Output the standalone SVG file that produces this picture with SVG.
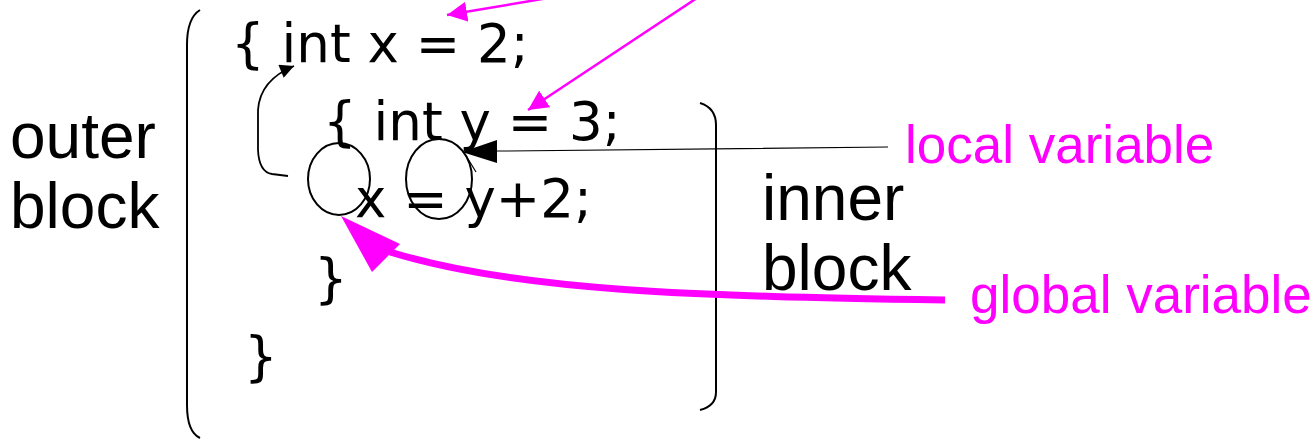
<svg xmlns="http://www.w3.org/2000/svg" width="1316" height="440" viewBox="0 0 1316 440">
<style>
.code{font-family:"DejaVu Sans",sans-serif;font-size:53px;fill:#000}
.lbl{font-family:"Liberation Sans",Arial,sans-serif;font-size:64px;fill:#000}
.mag{font-family:"Liberation Sans",Arial,sans-serif;font-size:53px;fill:#ff00ff}
.br{fill:none;stroke:#000;stroke-width:2}
</style>
<defs>
<marker id="mh" viewBox="0 0 10 10" refX="10" refY="5" markerWidth="8" markerHeight="8" markerUnits="strokeWidth" orient="auto"><path d="M0,0L10,5L0,10z" fill="#ff00ff"/></marker>
<marker id="bh" viewBox="0 0 10 10" refX="10" refY="5" markerWidth="20" markerHeight="14" markerUnits="userSpaceOnUse" orient="auto"><path d="M0,0L10,5L0,10z" fill="#000"/></marker>
</defs>
<rect width="1316" height="440" fill="#fff"/>
<g id="outer-block">
<path class="br" d="M200,10 Q187,18 187,45 L187,405 Q187,432 200,438"/>
<text class="lbl" x="10" y="158">outer</text>
<text class="lbl" x="10" y="228">block</text>
</g>
<g id="inner-block">
<path class="br" d="M700,103 Q716,108 716,125 L716,392 Q716,406 700,410"/>
<text class="lbl" x="762" y="220">inner</text>
<text class="lbl" x="762" y="290">block</text>
</g>
<g id="code">
<text class="code" x="231" y="62">{ int x = 2;</text>
<text class="code" x="323" y="140">{ int y = 3;</text>
<text class="code" x="355" y="217">x = y+2;</text>
<text class="code" x="314" y="297">}</text>
<text class="code" x="244" y="375">}</text>
</g>
<g id="circles">
<ellipse class="br" cx="339" cy="179" rx="31" ry="36"/>
<ellipse class="br" cx="439" cy="179" rx="33" ry="40"/>
</g>
<g id="labels">
<text class="mag" x="905" y="163">local variable</text>
<text class="mag" x="970" y="313">global variable</text>
</g>
<g id="connectors">
<line x1="560" y1="-4" x2="447" y2="15" stroke="#ff00ff" stroke-width="2.5" marker-end="url(#mh)"/>
<line x1="700" y1="-4" x2="528" y2="110" stroke="#ff00ff" stroke-width="2.5" marker-end="url(#mh)"/>
<path d="M945,300 C700,296 520,292 390,252" fill="none" stroke="#ff00ff" stroke-width="7"/>
<path d="M341,216 L400,244 L372,272 Z" fill="#ff00ff"/>
<path d="M888,147 C700,148 600,151 497,151" fill="none" stroke="#000" stroke-width="1.2"/>
<path d="M462,152 L497,140 L497,163 Z" fill="#000"/>
<line x1="465" y1="154" x2="476" y2="172" stroke="#000" stroke-width="1.2"/>
<path d="M288,176 L272,174 Q259,172 258,150 L258,110 Q260,80 294,66" fill="none" stroke="#000" stroke-width="1.8" marker-end="url(#bh)"/>
</g>
</svg>
